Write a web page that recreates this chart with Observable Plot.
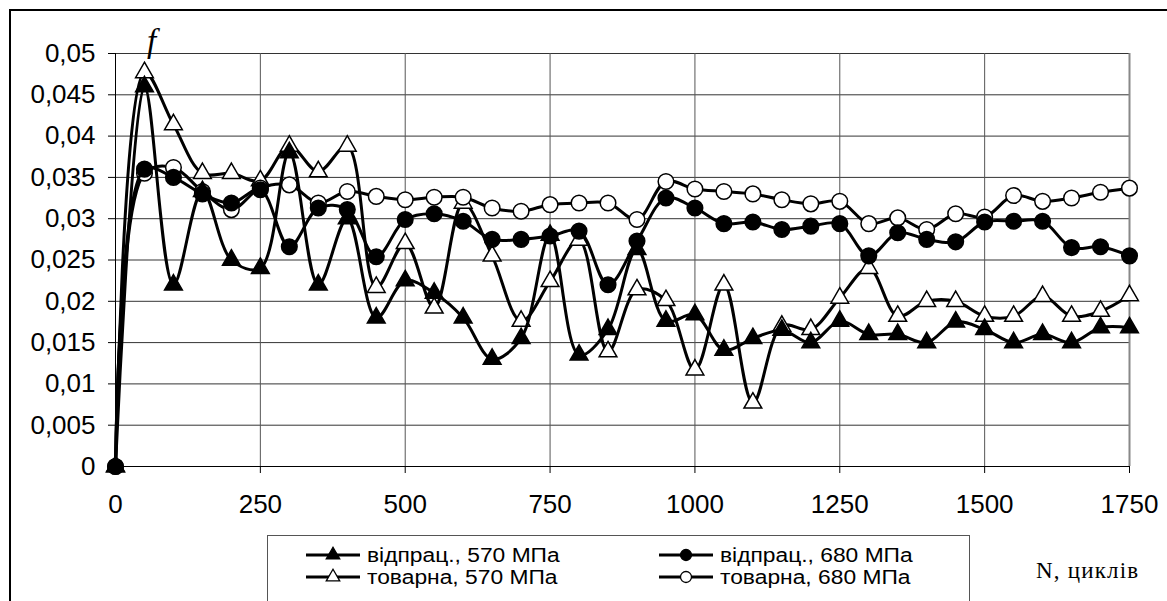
<!DOCTYPE html>
<html>
<head>
<meta charset="utf-8">
<script src="https://cdn.jsdelivr.net/npm/d3@7"></script>
<script src="https://cdn.jsdelivr.net/npm/@observablehq/plot@0.6"></script>
<style>
  html, body { margin: 0; padding: 0; background: #fff; }
  #wrap { position: relative; width: 1167px; height: 601px; overflow: hidden; background: #fff; }
  #frame { position: absolute; left: 9px; top: 9px; width: 1300px; height: 800px; border-left: 2px solid #000; border-top: 2px solid #000; }
  #chart { position: absolute; left: 0; top: 0; }
  #legend { position: absolute; left: 267px; top: 535px; width: 703px; height: 90px; border: 1.5px solid #555; background: #fff; box-sizing: border-box; }
  .entry { position: absolute; height: 22px; line-height: 22px; display: flex; align-items: center; font-family: "Liberation Sans", Arial, sans-serif; font-size: 20px; color: #000; white-space: nowrap; }
  .entry span { display: inline-block; transform: scaleX(1.14); transform-origin: left center; }
  .entry svg { margin-right: 7px; }
  #flabel { position: absolute; left: 147px; top: 25px; font-family: "Liberation Serif", "Times New Roman", serif; font-style: italic; font-size: 33px; line-height: 33px; }
  #nlabel { position: absolute; left: 1036px; top: 558px; font-family: "Liberation Serif", "Times New Roman", serif; font-size: 23px; line-height: 26px; letter-spacing: 1.2px; }
</style>
</head>
<body>
<div id="wrap">
  <div id="frame"></div>
  <div id="chart"></div>
  <div id="legend"></div>
  <div id="flabel">f</div>
  <div id="nlabel">N, циклів</div>
</div>
<script>
const N = [0, 50, 100, 150, 200, 250, 300, 350, 400, 450, 500, 550, 600, 650, 700, 750, 800, 850, 900, 950,
           1000, 1050, 1100, 1150, 1200, 1250, 1300, 1350, 1400, 1450, 1500, 1550, 1600, 1650, 1700, 1750];

const seriesNames = ["відпрац., 570 МПа", "відпрац., 680 МПа", "товарна, 570 МПа", "товарна, 680 МПа"];

const vidprac570 = [0, 0.046, 0.022, 0.0333, 0.025, 0.024, 0.038, 0.022, 0.030, 0.018, 0.0225, 0.021, 0.018, 0.013, 0.0155, 0.028,
  0.0135, 0.0166, 0.0263, 0.0176, 0.0184, 0.0141, 0.0155, 0.0165, 0.015, 0.0176, 0.016, 0.016, 0.015, 0.0175, 0.0166, 0.015,
  0.016, 0.015, 0.0168, 0.0168];
const vidprac680 = [0, 0.036, 0.035, 0.033, 0.0319, 0.0335, 0.0266, 0.0313, 0.0311, 0.0254, 0.0299, 0.0306, 0.0297, 0.0275, 0.0275, 0.0279,
  0.0285, 0.022, 0.0273, 0.0325, 0.0313, 0.0294, 0.0296, 0.0287, 0.0291, 0.0294, 0.0255, 0.0283, 0.0275, 0.0272, 0.0296, 0.0297,
  0.0297, 0.0265, 0.0266, 0.0255];
const tovarna570 = [0, 0.0477, 0.0414, 0.0355, 0.0355, 0.0346, 0.0388, 0.0357, 0.0388, 0.0217, 0.027, 0.0192, 0.0319, 0.0255, 0.0176, 0.0224,
  0.0274, 0.0139, 0.0214, 0.0201, 0.0117, 0.022, 0.0077, 0.017, 0.0166, 0.0204, 0.024, 0.0182, 0.020, 0.020, 0.0182, 0.0182,
  0.0206, 0.0182, 0.0188, 0.0207];
const tovarna680 = [0, 0.0355, 0.0362, 0.0333, 0.0311, 0.0337, 0.0341, 0.0319, 0.0333, 0.0327, 0.0323, 0.0326, 0.0326, 0.0313, 0.0309, 0.0317,
  0.0319, 0.0319, 0.0299, 0.0345, 0.0336, 0.0333, 0.033, 0.0323, 0.0318, 0.0321, 0.0294, 0.0301, 0.0287, 0.0306, 0.0302, 0.0328,
  0.0321, 0.0325, 0.0332, 0.0337];

const xTicks = [0, 250, 500, 750, 1000, 1250, 1500, 1750];
const yTicks = [0, 0.005, 0.01, 0.015, 0.02, 0.025, 0.03, 0.035, 0.04, 0.045, 0.05];
const yTickLabels = ["0", "0,005", "0,01", "0,015", "0,02", "0,025", "0,03", "0,035", "0,04", "0,045", "0,05"];

const rows = (vals, name) => N.map((n, i) => ({n, f: vals[i], s: name}));
const A = rows(vidprac570, seriesNames[0]);
const B = rows(vidprac680, seriesNames[1]);
const C = rows(tovarna570, seriesNames[2]);
const D = rows(tovarna680, seriesNames[3]);

const styles = {
  [seriesNames[0]]: {symbol: "triangle", fill: "#000", r: 6.6},
  [seriesNames[1]]: {symbol: "circle", fill: "#000", r: 7.8},
  [seriesNames[2]]: {symbol: "triangle", fill: "#fff", r: 6.6},
  [seriesNames[3]]: {symbol: "circle", fill: "#fff", r: 7.8}
};

function seriesMarks(data) {
  const st = styles[data[0].s];
  return [
    Plot.line(data, {x: "n", y: "f", curve: "catmull-rom", stroke: "#000", strokeWidth: 3}),
    Plot.dot(data, {x: "n", y: "f", symbol: st.symbol, r: st.r, fill: st.fill, stroke: "#000", strokeWidth: 1.5})
  ];
}

const chart = Plot.plot({
  width: 1167,
  height: 526,
  marginLeft: 115,
  marginRight: 38,
  marginTop: 53,
  marginBottom: 60,
  style: {fontFamily: "'Liberation Sans', Arial, sans-serif", fontSize: "26px", background: "transparent", color: "#000"},
  x: {domain: [0, 1750]},
  y: {domain: [0, 0.05]},
  marks: [
    Plot.gridY(yTicks, {stroke: "#000", strokeOpacity: 0.8, strokeWidth: 1}),
    Plot.gridX(xTicks.slice(0, -1), {stroke: "#555", strokeOpacity: 1, strokeWidth: 1}),
    Plot.ruleX([1750], {stroke: "#888", strokeWidth: 2}),
    Plot.axisY({ticks: yTicks, tickSize: 7, tickPadding: 13, tickFormat: d => yTickLabels[yTicks.indexOf(d)], label: null, fontSize: 26}),
    Plot.axisX({ticks: xTicks, tickSize: 7, tickPadding: 21, label: null, tickFormat: d => String(d), fontSize: 26}),
    Plot.ruleY([0], {stroke: "#000", strokeWidth: 1}),
    Plot.ruleX([0], {stroke: "#000", strokeWidth: 1}),
    ...seriesMarks(C),
    ...seriesMarks(D),
    ...seriesMarks(A),
    ...seriesMarks(B)
  ]
});
document.getElementById("chart").appendChild(chart);

// Legend
const legend = document.getElementById("legend");
const positions = [
  {left: 38, top: 8},
  {left: 391, top: 8},
  {left: 38, top: 30},
  {left: 391, top: 30}
];
seriesNames.forEach((name, i) => {
  const st = styles[name];
  const e = document.createElement("div");
  e.className = "entry";
  e.style.left = positions[i].left + "px";
  e.style.top = positions[i].top + "px";
  const ns = "http://www.w3.org/2000/svg";
  const svg = document.createElementNS(ns, "svg");
  svg.setAttribute("width", 54);
  svg.setAttribute("height", 22);
  const ln = document.createElementNS(ns, "line");
  ln.setAttribute("x1", 0); ln.setAttribute("x2", 54);
  ln.setAttribute("y1", 11); ln.setAttribute("y2", 11);
  ln.setAttribute("stroke", "#000"); ln.setAttribute("stroke-width", 3);
  svg.appendChild(ln);
  const p = document.createElementNS(ns, "path");
  const sym = st.symbol === "triangle" ? d3.symbolTriangle : d3.symbolCircle;
  const rr = st.symbol === "triangle" ? 5 : 5.5;
  p.setAttribute("d", d3.symbol(sym, Math.PI * rr * rr)());
  p.setAttribute("transform", "translate(27,11)");
  p.setAttribute("fill", st.fill);
  p.setAttribute("stroke", "#000");
  p.setAttribute("stroke-width", 1.3);
  svg.appendChild(p);
  e.appendChild(svg);
  const t = document.createElement("span");
  t.textContent = name;
  e.appendChild(t);
  legend.appendChild(e);
});
</script>
</body>
</html>
